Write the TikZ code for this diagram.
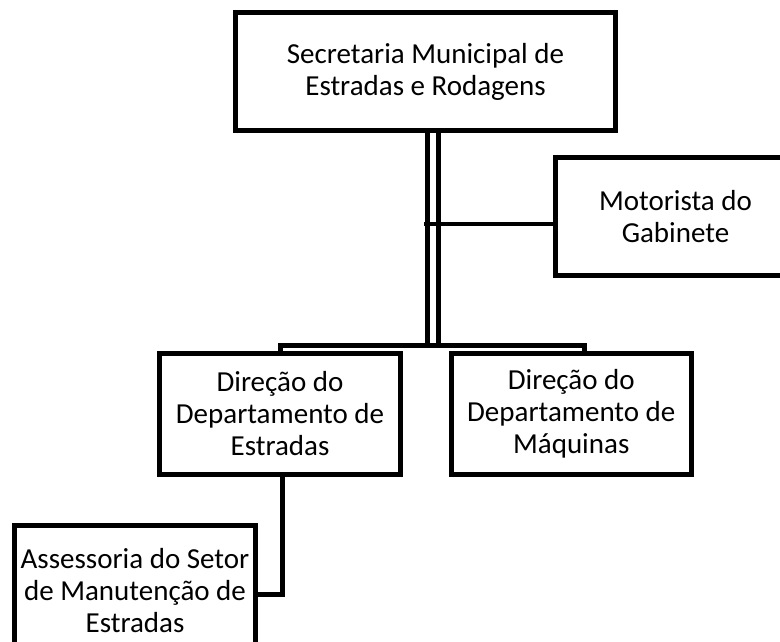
\documentclass[tikz,border=0pt]{standalone}
\usepackage{fontspec}
\setmainfont{Carlito}
\begin{document}
\begin{tikzpicture}[x=1pt,y=-1pt,
  box/.style={draw=black, fill=white, line width=5pt, align=center, inner sep=0pt,
    font=\fontsize{29pt}{32pt}\selectfont},
  conn/.style={draw=black, line width=5pt, line join=miter},
  thin conn/.style={draw=black, line width=4pt},
  trunk/.style={draw=black, line width=5pt, double=white, double distance=6.5pt}
]
\useasboundingbox (0,0) rectangle (780,641);
\clip (0,0) rectangle (780,641);
\fill[white] (0,0) rectangle (780,641);

\node[box, minimum width=380pt, minimum height=118pt] (top) at (425.5,71.5)
  {Secretaria Municipal de\\Estradas e Rodagens};
\node[box, minimum width=240pt, minimum height=118.5pt] (mot) at (675.5,216.25)
  {Motorista do\\Gabinete};
\node[box, minimum width=241pt, minimum height=121.5pt] (est) at (280,413.75)
  {Direção do\\Departamento de\\Estradas};
\node[box, minimum width=240pt, minimum height=121.5pt] (maq) at (571.25,413.75)
  {Direção do\\Departamento de\\Máquinas};
\node[box, minimum width=241pt, minimum height=132pt] (ass) at (135,591)
  {Assessoria do Setor\\de Manutenção de\\Estradas};

\coordinate (bus) at (432.75,345.5);
\coordinate (busR) at (584.5,345.5);
\coordinate (motJ) at (424,224);
\coordinate (ae) at (282.5,594.5);

% trunk (double line) from the top box down to the bus
\draw[trunk] (bus |- top.south) -- (bus);
% branch to the Motorista box
\draw[thin conn] (motJ) -- (motJ -| mot.west);
% bus to the two department boxes
\draw[conn] (est.north) -- (est.north |- bus) -- (busR) -- (busR |- maq.north);
% Estradas to Assessoria
\draw[conn] (ae |- est.south) -- (ae) -- (ae -| ass.east);
\end{tikzpicture}
\end{document}
